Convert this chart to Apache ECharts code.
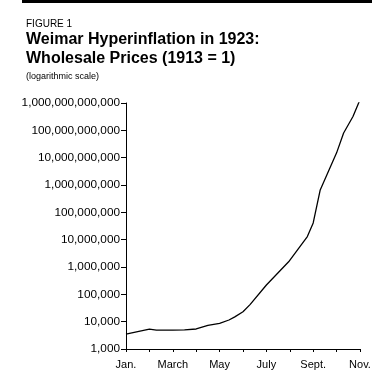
<!DOCTYPE html>
<html>
<head>
<meta charset="utf-8">
<script src="https://cdn.jsdelivr.net/npm/echarts@6/dist/echarts.min.js"></script>
<style>
html,body{margin:0;padding:0;background:#fff;}
#chart{width:385px;height:386px;}
</style>
</head>
<body>
<div id="chart"></div>
<script>
// Month index (0 = Jan. 1923) and wholesale price index (1913 = 1)
var monthPos = [0, 1, 1.3, 2, 2.5, 3, 3.5, 4, 4.4, 4.65, 5, 5.3, 6, 6.95, 7.75, 8, 8.3, 9, 9.3, 9.7, 10.02];
var priceIndex = [3500, 5300, 4900, 4900, 5000, 5400, 7300, 8700, 11500, 15000, 23000, 42000, 220000, 1550000, 13000000, 41000000, 660000000, 15000000000, 80000000000, 320000000000, 1450000000000];
var monthLabels = ['Jan.', '', 'March', '', 'May', '', 'July', '', 'Sept.', '', 'Nov.'];
var yTicks = [1e3, 1e4, 1e5, 1e6, 1e7, 1e8, 1e9, 1e10, 1e11, 1e12];

var FONT = '"Liberation Sans", Arial, Helvetica, sans-serif';
function fmt(v) {
  var s = Math.round(v).toString();
  return s.replace(/\B(?=(\d{3})+(?!\d))/g, ',');
}
var data = monthPos.map(function (m, i) { return [m, priceIndex[i]]; });

var chart = echarts.init(document.getElementById('chart'), null, {renderer: 'canvas'});
chart.setOption({
  animation: false,
  backgroundColor: '#fff',
  title: [
    {text: 'FIGURE 1', left: 21, top: 14, textStyle: {fontFamily: FONT, fontSize: 10, fontWeight: 'normal', color: '#000'}},
    {text: 'Weimar Hyperinflation in 1923:\nWholesale Prices (1913 = 1)', left: 21, top: 25,
     textStyle: {fontFamily: FONT, fontSize: 16, fontWeight: 'bold', color: '#000', lineHeight: 19}},
    {text: '(logarithmic scale)', left: 21, top: 67, textStyle: {fontFamily: FONT, fontSize: 9, fontWeight: 'normal', color: '#000'}}
  ],
  graphic: [
    {type: 'rect', shape: {x: 22, y: 0, width: 350, height: 3}, style: {fill: '#000'}}
  ],
  grid: {left: 126, right: 25, top: 103, bottom: 37, containLabel: false},
  xAxis: {
    type: 'value', min: 0, max: 10, interval: 1,
    axisLine: {show: true, lineStyle: {color: '#000', width: 1}},
    axisTick: {show: true, inside: false, length: 3, lineStyle: {color: '#000'}},
    axisLabel: {
      color: '#000', fontFamily: FONT, fontSize: 11, margin: 10,
      formatter: function (v) { return monthLabels[Math.round(v)] || ''; }
    },
    splitLine: {show: false}
  },
  yAxis: {
    type: 'log', logBase: 10, min: 1e3, max: 1e12,
    axisLine: {show: true, lineStyle: {color: '#000', width: 1}},
    axisTick: {show: true, inside: false, length: 5, lineStyle: {color: '#000'}},
    axisLabel: {
      color: '#000', fontFamily: FONT, fontSize: 11.8, margin: 6,
      formatter: function (v) { return fmt(v); }
    },
    splitLine: {show: false},
    minorTick: {show: false}
  },
  series: [{
    type: 'line', data: data, showSymbol: false, smooth: false,
    lineStyle: {color: '#000', width: 1.3}
  }]
});
</script>
</body>
</html>
